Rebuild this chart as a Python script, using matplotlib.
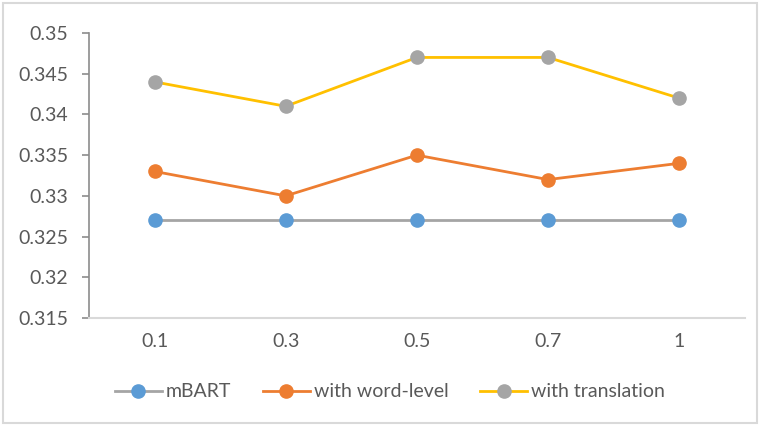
import matplotlib.pyplot as plt
import numpy as np
from matplotlib.patches import Rectangle

categories = ["0.1", "0.3", "0.5", "0.7", "1"]
mbart = [0.327, 0.327, 0.327, 0.327, 0.327]
word_level = [0.333, 0.330, 0.335, 0.332, 0.334]
translation = [0.344, 0.341, 0.347, 0.347, 0.342]

# (label, values, line colour, marker colour)
SERIES = [
    ("mBART", mbart, "#A5A5A5", "#5B9BD5"),
    ("with word-level", word_level, "#ED7D31", "#ED7D31"),
    ("with translation", translation, "#FFC000", "#A5A5A5"),
]
TEXT = "#595959"

plt.rcParams["font.family"] = ["Lato", "DejaVu Sans"]

fig = plt.figure(figsize=(7.6, 4.26), dpi=100)
ax = fig.add_axes([0.117, 0.2535, 0.863, 0.669])

x = np.arange(len(categories))
for label, vals, lc, mc in SERIES:
    ax.plot(x, vals, color=lc, lw=2, marker="o", markersize=9.5,
            markerfacecolor=mc, markeredgecolor=mc, label=label, zorder=3)

yticks = np.round(np.arange(0.315, 0.3501, 0.005), 3)
ax.set_xlim(-0.5, len(categories) - 0.5)
ax.set_ylim(0.315, 0.35)
ax.set_yticks(yticks)
ax.set_yticklabels([f"{v:g}" for v in yticks])
ax.set_xticks(x)
ax.set_xticklabels(categories)

for s in ("top", "right"):
    ax.spines[s].set_visible(False)
ax.spines["left"].set_color("#8C8C8C")
ax.spines["left"].set_linewidth(1.2)
ax.spines["bottom"].set_color("#D9D9D9")
ax.spines["bottom"].set_linewidth(1.5)
ax.tick_params(axis="y", colors="#8C8C8C", labelcolor=TEXT, labelsize=14,
               length=5, width=1.2, pad=10)
ax.tick_params(axis="x", length=0, labelcolor=TEXT, labelsize=14, pad=11)

fig.legend(loc="center", bbox_to_anchor=(0.513, 0.08), ncol=3, frameon=False,
           fontsize=14, labelcolor=TEXT, handlelength=2.4, columnspacing=1.65,
           handletextpad=0.2)

# thin border round the chart area
fig.patches.append(Rectangle((0.004, 0.006), 0.992, 0.988, transform=fig.transFigure,
                             fill=False, edgecolor="#D9D9D9", lw=1.5))

fig.savefig("out.png", dpi=100)
